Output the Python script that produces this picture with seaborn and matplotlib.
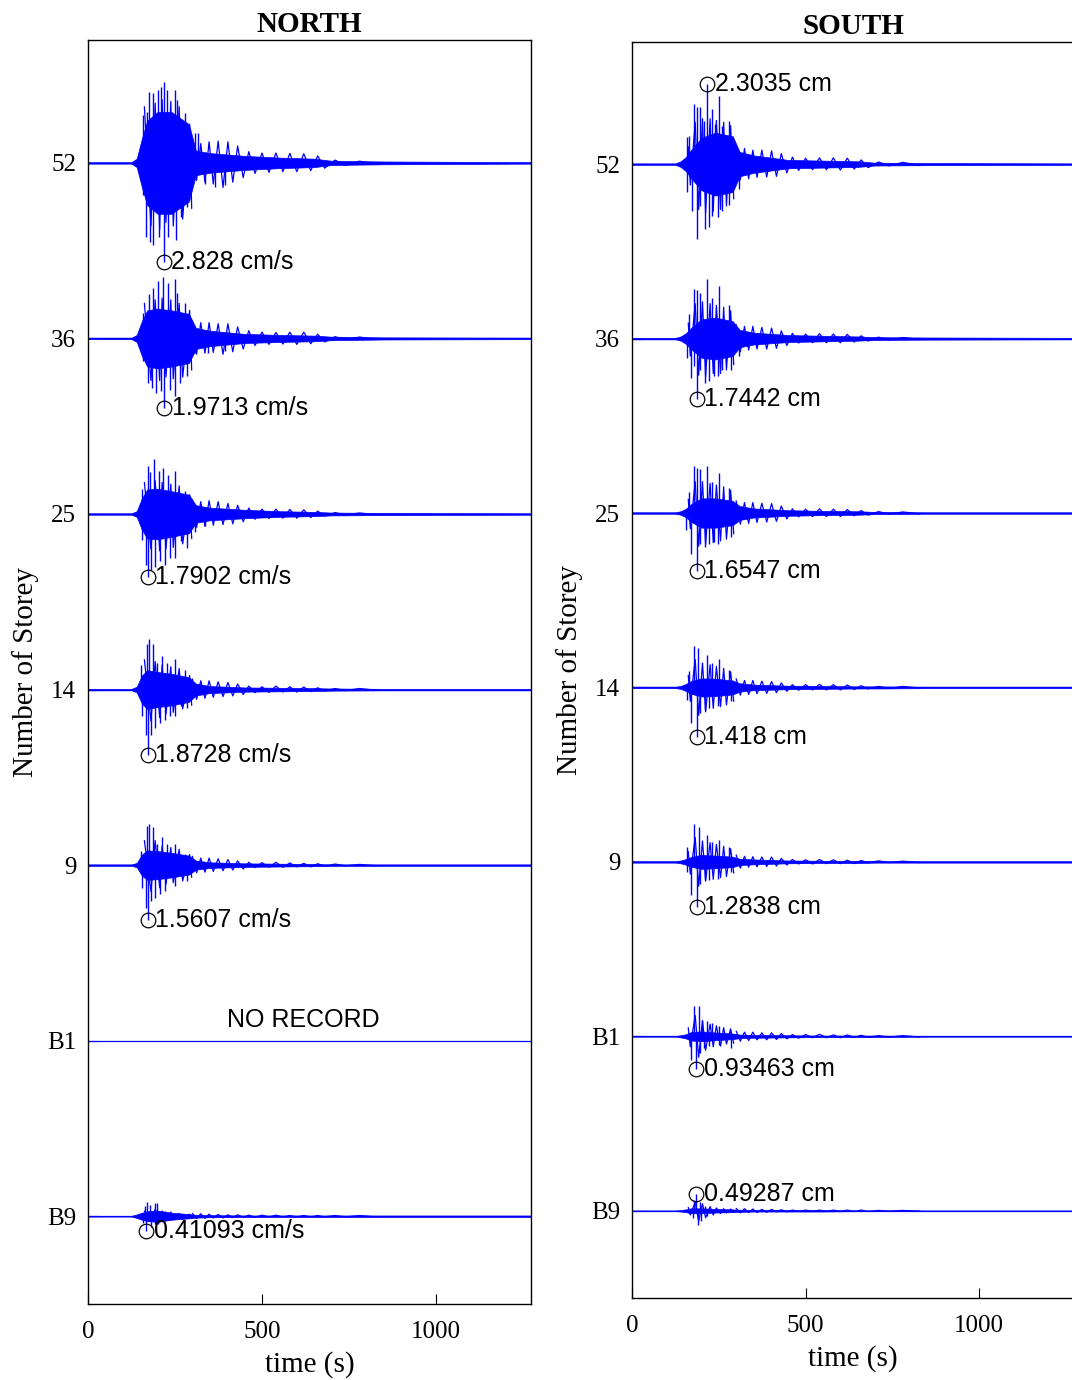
import numpy as np
import pandas as pd
import matplotlib
matplotlib.use("Agg")
import matplotlib.pyplot as plt
import seaborn as sns

# ---------------- data ----------------
STOREY_LABELS = ["B9", "B1", "9", "14", "25", "36", "52"]
STOREY_POS = [1, 2, 3, 4, 5, 6, 7]
SCALE = 0.2          # storey units per cm/s (or cm)
T_END = 1273

# envelope knot times (s)
T_ENV = [0, 125, 140, 155, 170, 200, 240, 290, 310, 350, 450, 550, 650, 700, 850, 1273]

# NORTH envelopes (cm/s)
N52_ENV = [0.02, 0.02, 0.12, 0.7, 1.2, 1.45, 1.45, 1.1, 0.35, 0.28, 0.2, 0.15, 0.12, 0.06, 0.04, 0.02]
N36_ENV = [0.02, 0.02, 0.1, 0.5, 0.8, 0.85, 0.8, 0.7, 0.3, 0.22, 0.13, 0.1, 0.08, 0.05, 0.03, 0.02]
N25_ENV = [0.02, 0.02, 0.08, 0.45, 0.7, 0.72, 0.65, 0.55, 0.25, 0.18, 0.12, 0.08, 0.06, 0.04, 0.03, 0.02]
N14_ENV = [0.02, 0.02, 0.08, 0.4, 0.55, 0.5, 0.45, 0.35, 0.17, 0.1, 0.06, 0.05, 0.04, 0.03, 0.02, 0.02]
N9_ENV = [0.02, 0.02, 0.06, 0.3, 0.42, 0.4, 0.35, 0.27, 0.13, 0.08, 0.05, 0.04, 0.03, 0.02, 0.02, 0.02]
NB1_ENV = [0.0] * 16
NB9_ENV = [0.01, 0.01, 0.05, 0.1, 0.14, 0.16, 0.1, 0.06, 0.04, 0.03, 0.02, 0.02, 0.02, 0.02, 0.02, 0.02]

# SOUTH envelopes (cm)
S52_ENV = [0.02, 0.02, 0.08, 0.2, 0.4, 0.75, 0.9, 0.8, 0.35, 0.25, 0.12, 0.1, 0.08, 0.04, 0.03, 0.02]
S36_ENV = [0.02, 0.02, 0.06, 0.15, 0.3, 0.55, 0.6, 0.5, 0.25, 0.17, 0.1, 0.08, 0.06, 0.04, 0.03, 0.02]
S25_ENV = [0.02, 0.02, 0.05, 0.12, 0.25, 0.42, 0.42, 0.35, 0.2, 0.13, 0.08, 0.06, 0.05, 0.03, 0.02, 0.02]
S14_ENV = [0.02, 0.02, 0.04, 0.1, 0.18, 0.26, 0.25, 0.2, 0.12, 0.08, 0.05, 0.04, 0.03, 0.03, 0.02, 0.02]
S9_ENV = [0.02, 0.02, 0.04, 0.08, 0.14, 0.2, 0.18, 0.15, 0.09, 0.07, 0.04, 0.03, 0.03, 0.02, 0.02, 0.02]
SB1_ENV = [0.01, 0.01, 0.03, 0.06, 0.12, 0.14, 0.11, 0.08, 0.05, 0.04, 0.03, 0.02, 0.02, 0.02, 0.01, 0.01]
SB9_ENV = [0.01, 0.01, 0.02, 0.04, 0.07, 0.07, 0.05, 0.04, 0.03, 0.02, 0.02, 0.02, 0.01, 0.01, 0.01, 0.01]

# prominent spikes in the strong-motion part: times (s) and values
N52_SPK_T = [158, 170, 175, 187, 201, 209, 218, 228, 251, 257, 278, 287, 307, 316,
             158, 168, 177, 187, 203, 230, 254, 268, 285, 307, 335, 364, 393]
N52_SPK_V = [1.36, 1.46, 2.03, 1.98, 2.08, 2.17, 2.31, 2.08, 2.08, 1.79, 1.41, 1.03, 0.84, 0.84,
             -0.92, -2.11, -2.26, -2.35, -2.11, -2.11, -2.2, -1.54, -1.26, -0.4, -0.6, -0.69, -0.64]
N36_SPK_T = [158, 175, 187, 201, 216, 230, 251, 257, 278, 287,
             158, 172, 184, 196, 209, 235, 251, 263, 285, 307, 345, 393]
N36_SPK_V = [0.73, 1.26, 1.45, 1.64, 1.76, 1.59, 1.69, 1.3, 1.02, 0.64,
             -0.65, -1.27, -1.41, -1.55, -1.5, -1.46, -1.65, -1.27, -1.08, -0.41, -0.41, -0.36]
N25_SPK_T = [156, 172, 177, 190, 203, 216, 230, 251, 278,
             156, 168, 182, 192, 206, 220, 235, 251, 268, 285, 307, 335]
N25_SPK_V = [0.7, 1.36, 1.2, 1.58, 1.22, 1.31, 1.12, 1.22, 0.65,
             -0.73, -1.45, -1.59, -1.5, -1.35, -1.45, -1.26, -1.26, -0.78, -0.97, -0.5, -0.35]
N14_SPK_T = [153, 170, 175, 187, 199, 213, 228, 251, 278,
             155, 168, 182, 192, 206, 220, 235, 251, 268, 285]
N14_SPK_V = [0.71, 1.29, 1.43, 1.29, 0.76, 0.95, 0.76, 0.86, 0.57,
             -0.76, -1.29, -1.29, -1.1, -0.95, -0.86, -0.76, -0.76, -0.48, -0.52]
N9_SPK_T = [153, 170, 175, 187, 199, 213, 228, 251, 278,
            155, 168, 182, 192, 206, 220, 251, 285]
N9_SPK_V = [0.41, 1.12, 1.17, 1.08, 0.6, 0.79, 0.6, 0.6, 0.31,
            -0.64, -1.21, -1.02, -0.93, -0.83, -0.74, -0.59, -0.45]
NB1_SPK_T = []
NB1_SPK_V = []
NB9_SPK_T = [163, 170, 177, 192, 199, 220, 158, 182, 192, 201]
NB9_SPK_V = [0.28, 0.4, 0.33, 0.37, 0.37, 0.16, -0.2, -0.3, -0.22, -0.22]

S52_SPK_T = [158, 165, 178, 187, 195, 207, 229, 238, 250, 259, 280, 288,
             157, 173, 187, 197, 209, 221, 231, 248, 259, 279, 307]
S52_SPK_V = [0.77, 0.8, 1.73, 1.63, 1.63, 1.25, 1.58, 1.15, 1.96, 1.1, 1.25, 0.68,
             -0.8, -1.33, -2.14, -1.2, -1.85, -1.8, -1.5, -1.52, -1.33, -1.18, -0.7]
S36_SPK_T = [165, 178, 187, 197, 216, 229, 250, 280,
             157, 171, 178, 197, 209, 221, 235, 248, 259, 286, 307]
S36_SPK_V = [0.69, 1.42, 1.4, 1.3, 1.71, 1.16, 1.5, 0.97,
             -0.55, -1.12, -0.8, -0.9, -1.27, -1.22, -1.08, -1.08, -0.9, -0.89, -0.5]
S25_SPK_T = [165, 178, 187, 197, 216, 229, 250, 280,
             156, 171, 197, 209, 221, 235, 248, 286]
S25_SPK_V = [0.59, 1.35, 1.3, 1.25, 1.35, 0.88, 1.16, 0.73,
             -0.5, -1.17, -0.88, -0.98, -0.88, -0.84, -0.88, -0.7]
S14_SPK_T = [165, 178, 190, 216, 229, 250, 280,
             157, 171, 197, 209, 221, 248, 286]
S14_SPK_V = [0.46, 1.19, 1.12, 0.93, 0.7, 0.81, 0.5,
             -0.35, -1.02, -0.74, -0.64, -0.59, -0.54, -0.4]
S9_SPK_T = [158, 178, 192, 216, 229, 250, 280,
            157, 171, 197, 209, 221, 248, 286]
S9_SPK_V = [0.43, 1.08, 1.0, 0.76, 0.57, 0.64, 0.43,
            -0.29, -0.95, -0.62, -0.52, -0.52, -0.48, -0.29]
SB1_SPK_T = [178, 192, 202, 216, 230, 250, 283,
             171, 197, 207, 221, 250, 286]
SB1_SPK_V = [0.88, 0.86, 0.48, 0.43, 0.38, 0.29, 0.24,
             -0.67, -0.48, -0.33, -0.29, -0.24, -0.33]
SB9_SPK_T = [178, 195, 210, 175, 190, 200, 215]
SB9_SPK_V = [0.3, 0.25, 0.15, -0.2, -0.4, -0.3, -0.15]

# oscillation peaks inside the strong-motion core
CORE_T_N = [162, 181, 193, 206, 213, 224, 238, 245, 262, 272, 292, 298]
N52_CORE_V = [1.6, -1.8, 1.7, -1.9, 1.8, -1.7, 1.75, -1.8, 1.6, -1.6, 1.1, -1.3]
N36_CORE_V = [1.0, -1.2, 1.1, -1.2, 1.15, -1.1, 1.1, -1.15, 1.0, -1.1, 0.8, -0.9]
N25_CORE_V = [0.9, -1.0, 0.95, -1.05, 0.9, -1.0, 0.85, -0.95, 0.8, -0.85, 0.55, -0.7]
N14_CORE_V = [0.85, -0.9, 0.8, -0.8, 0.7, -0.7, 0.65, -0.65, 0.6, -0.55, 0.4, -0.45]
N9_CORE_V = [0.7, -0.75, 0.7, -0.65, 0.55, -0.55, 0.5, -0.5, 0.45, -0.45, 0.3, -0.35]
NB1_CORE_V = [0.0] * 12
NB9_CORE_V = [0.15, -0.15, 0.2, -0.18, 0.15, -0.12, 0.12, -0.1, 0.08, -0.08, 0.06, -0.06]
CORE_T_S = [162, 168, 182, 192, 203, 212, 225, 234, 243, 255, 264, 272, 284, 293]
S52_CORE_V = [0.5, -0.6, 1.2, -1.3, 1.3, -1.4, 1.3, -1.35, 1.25, -1.3, 1.2, -1.2, 1.1, -1.0]
S36_CORE_V = [0.45, -0.5, 1.0, -1.05, 1.05, -1.1, 1.0, -1.0, 0.95, -1.0, 0.9, -0.9, 0.8, -0.75]
S25_CORE_V = [0.4, -0.45, 0.9, -0.95, 0.9, -0.9, 0.85, -0.85, 0.8, -0.8, 0.75, -0.75, 0.65, -0.6]
S14_CORE_V = [0.35, -0.4, 0.8, -0.8, 0.7, -0.7, 0.65, -0.6, 0.6, -0.55, 0.55, -0.5, 0.45, -0.4]
S9_CORE_V = [0.3, -0.35, 0.7, -0.7, 0.6, -0.55, 0.55, -0.5, 0.5, -0.45, 0.45, -0.42, 0.38, -0.32]
SB1_CORE_V = [0.25, -0.3, 0.6, -0.6, 0.45, -0.4, 0.35, -0.3, 0.3, -0.28, 0.25, -0.22, 0.2, -0.2]
SB9_CORE_V = [0.1, -0.12, 0.25, -0.3, 0.2, -0.2, 0.12, -0.12, 0.08, -0.08, 0.06, -0.06, 0.05, -0.05]

# coda (tail) oscillation peaks
TAIL_T = [300, 312, 324, 336, 348, 360, 374, 388, 402, 416, 430, 446, 462, 480, 500,
          520, 540, 560, 580, 600, 620, 640, 660, 680, 710, 740, 780, 830]
N52_TAIL_V = [0.6, -0.5, 0.55, -0.55, 0.6, -0.6, 0.62, -0.7, 0.6, -0.55, 0.48, -0.42, 0.32, -0.3,
              0.28, -0.27, 0.28, -0.25, 0.27, -0.25, 0.26, -0.22, 0.2, -0.15, 0.08, -0.07, 0.05, -0.04]
N36_TAIL_V = [0.5, -0.45, 0.45, -0.42, 0.45, -0.4, 0.42, -0.45, 0.42, -0.38, 0.33, -0.3, 0.22, -0.2,
              0.18, -0.17, 0.17, -0.16, 0.18, -0.17, 0.18, -0.15, 0.12, -0.1, 0.05, -0.04, 0.04, -0.03]
N25_TAIL_V = [0.4, -0.38, 0.35, -0.35, 0.38, -0.32, 0.35, -0.3, 0.3, -0.28, 0.25, -0.22, 0.17, -0.15,
              0.14, -0.13, 0.14, -0.12, 0.13, -0.12, 0.12, -0.1, 0.08, -0.06, 0.04, -0.03, 0.03, -0.02]
N14_TAIL_V = [0.3, -0.28, 0.25, -0.25, 0.25, -0.22, 0.22, -0.2, 0.2, -0.18, 0.16, -0.14, 0.1, -0.09,
              0.08, -0.08, 0.1, -0.07, 0.08, -0.07, 0.07, -0.06, 0.05, -0.04, 0.03, -0.03, 0.03, -0.02]
N9_TAIL_V = [0.25, -0.22, 0.2, -0.2, 0.2, -0.18, 0.18, -0.16, 0.16, -0.14, 0.12, -0.11, 0.08, -0.07,
             0.07, -0.06, 0.08, -0.06, 0.06, -0.05, 0.05, -0.05, 0.04, -0.03, 0.03, -0.02, 0.02, -0.02]
NB1_TAIL_V = [0.0] * 28
NB9_TAIL_V = [0.08, -0.07, 0.07, -0.06, 0.06, -0.05, 0.05, -0.05, 0.04, -0.04, 0.04, -0.03, 0.03, -0.03,
              0.03, -0.02, 0.03, -0.02, 0.02, -0.02, 0.02, -0.02, 0.02, -0.02, 0.02, -0.02, 0.02, -0.02]
S52_TAIL_V = [0.5, -0.45, 0.45, -0.42, 0.4, -0.38, 0.4, -0.37, 0.38, -0.35, 0.3, -0.25, 0.2, -0.18,
              0.17, -0.16, 0.18, -0.16, 0.18, -0.17, 0.17, -0.14, 0.12, -0.1, 0.06, -0.05, 0.05, -0.04]
S36_TAIL_V = [0.4, -0.38, 0.35, -0.33, 0.35, -0.3, 0.32, -0.3, 0.3, -0.28, 0.22, -0.2, 0.15, -0.13,
              0.13, -0.12, 0.14, -0.12, 0.13, -0.12, 0.12, -0.1, 0.08, -0.07, 0.04, -0.04, 0.03, -0.03]
S25_TAIL_V = [0.35, -0.32, 0.3, -0.3, 0.3, -0.27, 0.28, -0.26, 0.27, -0.24, 0.2, -0.17, 0.12, -0.11,
              0.11, -0.1, 0.12, -0.1, 0.11, -0.1, 0.1, -0.08, 0.07, -0.06, 0.04, -0.03, 0.03, -0.03]
S14_TAIL_V = [0.25, -0.22, 0.2, -0.2, 0.2, -0.18, 0.18, -0.17, 0.17, -0.15, 0.13, -0.11, 0.08, -0.08,
              0.08, -0.07, 0.09, -0.07, 0.08, -0.07, 0.07, -0.06, 0.05, -0.04, 0.03, -0.03, 0.03, -0.02]
S9_TAIL_V = [0.2, -0.18, 0.16, -0.15, 0.15, -0.14, 0.14, -0.13, 0.14, -0.12, 0.1, -0.09, 0.07, -0.06,
             0.06, -0.06, 0.07, -0.05, 0.06, -0.05, 0.05, -0.05, 0.04, -0.03, 0.03, -0.02, 0.02, -0.02]
SB1_TAIL_V = [0.15, -0.14, 0.12, -0.12, 0.12, -0.1, 0.1, -0.1, 0.1, -0.09, 0.08, -0.07, 0.05, -0.05,
              0.05, -0.04, 0.06, -0.04, 0.04, -0.04, 0.04, -0.03, 0.03, -0.03, 0.02, -0.02, 0.02, -0.02]
SB9_TAIL_V = [0.07, -0.06, 0.06, -0.05, 0.05, -0.05, 0.04, -0.04, 0.04, -0.03, 0.03, -0.03, 0.02, -0.02,
              0.02, -0.02, 0.02, -0.02, 0.02, -0.02, 0.02, -0.02, 0.02, -0.02, 0.01, -0.01, 0.01, -0.01]

# peak values (annotated)
N_PEAK_T = [167, None, 171, 171, 171, 218, 217]
N_PEAK_V = [-0.41093, None, -1.5607, -1.8728, -1.7902, -1.9713, -2.828]
N_PEAK_TXT = ["0.41093 cm/s", None, "1.5607 cm/s", "1.8728 cm/s", "1.7902 cm/s",
              "1.9713 cm/s", "2.828 cm/s"]
S_PEAK_T = [184, 185, 186, 186, 186, 186, 216]
S_PEAK_V = [0.49287, -0.93463, -1.2838, -1.418, -1.6547, -1.7442, 2.3035]
S_PEAK_TXT = ["0.49287 cm", "0.93463 cm", "1.2838 cm", "1.418 cm", "1.6547 cm",
              "1.7442 cm", "2.3035 cm"]

N_ENVS = [NB9_ENV, NB1_ENV, N9_ENV, N14_ENV, N25_ENV, N36_ENV, N52_ENV]
N_SPK = [(NB9_SPK_T, NB9_SPK_V), (NB1_SPK_T, NB1_SPK_V), (N9_SPK_T, N9_SPK_V),
         (N14_SPK_T, N14_SPK_V), (N25_SPK_T, N25_SPK_V), (N36_SPK_T, N36_SPK_V),
         (N52_SPK_T, N52_SPK_V)]
N_CORES = [NB9_CORE_V, NB1_CORE_V, N9_CORE_V, N14_CORE_V, N25_CORE_V, N36_CORE_V, N52_CORE_V]
N_TAILS = [NB9_TAIL_V, NB1_TAIL_V, N9_TAIL_V, N14_TAIL_V, N25_TAIL_V, N36_TAIL_V, N52_TAIL_V]
S_ENVS = [SB9_ENV, SB1_ENV, S9_ENV, S14_ENV, S25_ENV, S36_ENV, S52_ENV]
S_SPK = [(SB9_SPK_T, SB9_SPK_V), (SB1_SPK_T, SB1_SPK_V), (S9_SPK_T, S9_SPK_V),
         (S14_SPK_T, S14_SPK_V), (S25_SPK_T, S25_SPK_V), (S36_SPK_T, S36_SPK_V),
         (S52_SPK_T, S52_SPK_V)]
S_CORES = [SB9_CORE_V, SB1_CORE_V, S9_CORE_V, S14_CORE_V, S25_CORE_V, S36_CORE_V, S52_CORE_V]
S_TAILS = [SB9_TAIL_V, SB1_TAIL_V, S9_TAIL_V, S14_TAIL_V, S25_TAIL_V, S36_TAIL_V, S52_TAIL_V]

# ---------------- style ----------------
sns.set_theme(style="white")
plt.rcParams["font.family"] = ["Liberation Serif", "DejaVu Serif"]
plt.rcParams.update({
    "axes.edgecolor": "black", "axes.linewidth": 1.0,
    "text.color": "black", "axes.labelcolor": "black",
    "xtick.color": "black", "ytick.color": "black",
    "axes.titlecolor": "black",
})

BLUE = "#0000FF"
SANS = ["Liberation Sans", "DejaVu Sans"]

fig = plt.figure(figsize=(10.72, 13.8), dpi=100)
axN = fig.add_axes([88 / 1072, 1 - 1304 / 1380, 443 / 1072, 1264 / 1380])
axS = fig.add_axes([632 / 1072, 1 - 1298 / 1380, 442 / 1072, 1256 / 1380])


def draw_panel(ax, envs, spikes, core_t, cores, tails, peak_t, peak_v, peak_txt, title):
    base = pd.DataFrame({
        "t": [0, T_END] * len(STOREY_POS),
        "y": [p for p in STOREY_POS for _ in range(2)],
        "trace": [p for p in STOREY_POS for _ in range(2)],
    })
    sns.lineplot(data=base, x="t", y="y", units="trace", estimator=None,
                 color=BLUE, lw=0.9, ax=ax, legend=False)
    for pos, env, (st, sv), cv, tv in zip(STOREY_POS, envs, spikes, cores, tails):
        env = np.asarray(env, float)
        ax.fill_between(T_ENV, pos + SCALE * env, pos - SCALE * env,
                        color=BLUE, lw=0.5)
        cv = np.asarray(cv, float)
        if np.any(cv):
            ax.plot(core_t, pos + SCALE * cv, color=BLUE, lw=0.9)
        if st:
            ax.vlines(st, pos, pos + SCALE * np.asarray(sv), color=BLUE, lw=1.0)
        tv = np.asarray(tv, float)
        if np.any(tv):
            ax.plot(TAIL_T, pos + SCALE * tv, color=BLUE, lw=0.9)
    for pos, pt, pv, txt in zip(STOREY_POS, peak_t, peak_v, peak_txt):
        if pt is None:
            continue
        yv = pos + SCALE * pv
        ax.vlines([pt], pos, yv, color=BLUE, lw=1.0)
        ax.plot([pt], [yv], marker="o", ms=10.5, mfc="none", mec="black", mew=0.9)
        ax.annotate(txt, (pt, yv), xytext=(5.5, 0), textcoords="offset points",
                    ha="left", va="center", fontsize=18, family=SANS, color="black")
    ax.set_xlim(0, T_END)
    ax.set_ylim(0.5, 7.7)
    ax.set_yticks(STOREY_POS)
    ax.set_yticklabels(STOREY_LABELS)
    ax.set_xticks([0, 500, 1000])
    ax.set_xticklabels(["0", "500", "1000"])
    ax.tick_params(axis="both", direction="in", length=7, width=0.8, labelsize=18,
                   colors="black", bottom=True, left=True)
    ax.tick_params(axis="y", pad=8.5)
    ax.tick_params(axis="x", pad=12)
    ax.set_xlabel("time (s)", fontsize=21, labelpad=6, color="black")
    ax.set_ylabel("Number of Storey", fontsize=21, color="black")
    ax.yaxis.set_label_coords(-0.11, 0.5)
    ax.set_title(title, fontsize=21, fontweight="bold", pad=6, color="black")
    for s in ax.spines.values():
        s.set_visible(True)
        s.set_color("black")


draw_panel(axN, N_ENVS, N_SPK, CORE_T_N, N_CORES, N_TAILS,
           N_PEAK_T, N_PEAK_V, N_PEAK_TXT, "NORTH")
draw_panel(axS, S_ENVS, S_SPK, CORE_T_S, S_CORES, S_TAILS,
           S_PEAK_T, S_PEAK_V, S_PEAK_TXT, "SOUTH")
axN.text(620, 2.12, "NO RECORD", ha="center", va="center", fontsize=18, family=SANS,
         color="black")

fig.savefig("out.png", dpi=100)
